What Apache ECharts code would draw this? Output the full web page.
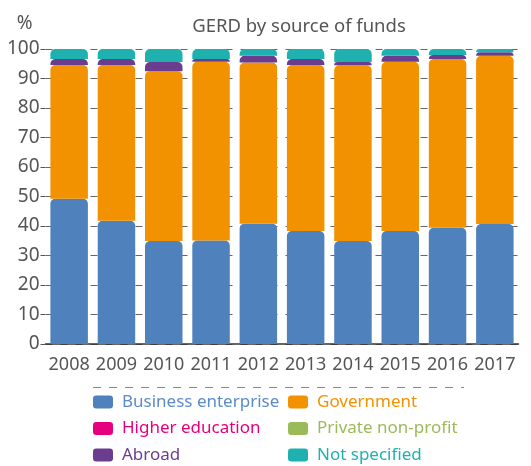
<!DOCTYPE html>
<html>
<head>
<meta charset="utf-8">
<script src="https://cdn.jsdelivr.net/npm/echarts@6/dist/echarts.min.js"></script>
<style>
html,body{margin:0;padding:0;background:#fff;}
#chart{width:531px;height:466px;}
</style>
</head>
<body>
<div id="chart"></div>
<script>
const years = ['2008','2009','2010','2011','2012','2013','2014','2015','2016','2017'];
const businessEnterprise = [49.2, 41.8, 34.9, 35.1, 40.8, 38.3, 34.9, 38.3, 39.4, 40.7];
const government = [45.4, 52.8, 57.6, 60.6, 54.6, 56.3, 59.6, 57.4, 57.2, 57.0];
const higherEducation = [0, 0, 0, 0, 0, 0, 0, 0, 0, 0];
const privateNonProfit = [0, 0, 0, 0, 0, 0, 0, 0, 0, 0];
const abroad = [2.0, 2.0, 3.1, 0.9, 2.3, 2.0, 1.1, 2.0, 1.4, 1.2];
const notSpecified = [3.4, 3.4, 4.4, 3.4, 2.3, 3.4, 4.4, 2.3, 2.0, 1.1];
const yTicks = [0, 10, 20, 30, 40, 50, 60, 70, 80, 90, 100];

const FONT = '"Noto Sans", Lato, sans-serif';
const seriesDefs = [
  {name:'Business enterprise', data: businessEnterprise, color:'#4f81bd', text:'#5b8bc9'},
  {name:'Government', data: government, color:'#f39200', text:'#f39200'},
  {name:'Higher education', data: higherEducation, color:'#e6007e', text:'#e6007e'},
  {name:'Private non-profit', data: privateNonProfit, color:'#9bbb59', text:'#9bbb59'},
  {name:'Abroad', data: abroad, color:'#6a3d8f', text:'#6a3d8f'},
  {name:'Not specified', data: notSpecified, color:'#1fb1b0', text:'#1fb1b0'}
];

const chart = echarts.init(document.getElementById('chart'), null, {renderer:'canvas'});

function legendData(names){
  return names.map(n => {
    const d = seriesDefs.find(s => s.name === n);
    return {name: n, textStyle: {color: d.text}};
  });
}

const legendCommon = {
  orient: 'vertical',
  top: 392,
  padding: 0,
  itemWidth: 20,
  itemHeight: 13,
  itemGap: 6.5,
  icon: 'roundRect',
  selectedMode: false,
  textStyle: {fontFamily: FONT, fontSize: 17, lineHeight: 20, padding: [0,0,0,4]}
};

chart.setOption({
  animation: false,
  textStyle: {fontFamily: FONT},
  title: {
    text: 'GERD by source of funds',
    left: 294, top: 12, textAlign: 'center',
    textStyle: {fontFamily: FONT, fontSize: 18.5, fontWeight: 'normal', color: '#555'}
  },
  grid: {left: 45.5, right: 12.5, top: 49, bottom: 122},
  legend: [
    Object.assign({}, legendCommon, {left: 93, data: legendData(['Business enterprise','Higher education','Abroad'])}),
    Object.assign({}, legendCommon, {left: 288, data: legendData(['Government','Private non-profit','Not specified'])})
  ],
  xAxis: {
    type: 'category',
    data: years,
    axisLine: {show: true, lineStyle: {color: '#333', width: 1.5}},
    axisTick: {show: false},
    axisLabel: {color: '#555', fontSize: 18, fontFamily: FONT, margin: 12, interval: 0}
  },
  yAxis: {
    type: 'value',
    min: yTicks[0], max: yTicks[yTicks.length-1], interval: 10,
    name: '%',
    nameLocation: 'end',
    nameGap: 16,
    nameTextStyle: {color: '#555', fontSize: 19, fontFamily: FONT, align: 'right', padding: [0, 13, 0, 0]},
    axisLine: {show: false},
    axisTick: {show: true, length: 5, lineStyle: {color: '#555'}},
    axisLabel: {color: '#555', fontSize: 19, fontFamily: FONT, margin: 6},
    splitLine: {show: true, lineStyle: {color: '#666', type: [7, 8], width: 1}}
  },
  graphic: [{
    type: 'line',
    shape: {x1: 93, y1: 387.5, x2: 464, y2: 387.5},
    style: {stroke: '#888', lineWidth: 1, lineDash: [8, 8]}
  }],
  series: seriesDefs.map(s => ({
    name: s.name,
    type: 'bar',
    stack: 'total',
    data: s.data,
    barWidth: 37.5,
    itemStyle: {color: s.color, borderRadius: [5, 5, 0, 0]}
  }))
});
</script>
</body>
</html>
